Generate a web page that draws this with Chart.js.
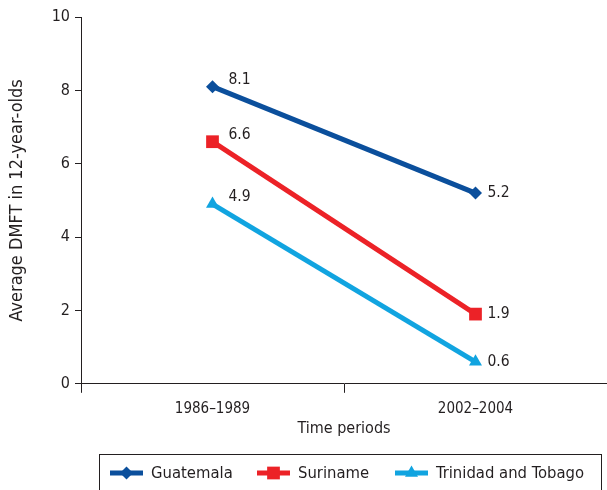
<!DOCTYPE html>
<html>
<head>
<meta charset="utf-8">
<script src="https://cdn.jsdelivr.net/npm/chart.js@4/dist/chart.umd.min.js"></script>
<style>
  html, body { margin: 0; padding: 0; background: #fff; }
  #wrap { width: 607px; height: 490px; position: relative; }
</style>
</head>
<body>
<div id="wrap"><canvas id="c" width="607" height="490"></canvas></div>
<script>
// Time periods on the x axis
const periods = ['1986\u20131989', '2002\u20132004'];
// Average DMFT in 12-year-olds per country
const guatemala = [8.1, 5.2];
const suriname = [6.6, 1.9];
const trinidad = [4.9, 0.6];
const countryNames = ['Guatemala', 'Suriname', 'Trinidad and Tobago'];
const yTicks = [0, 2, 4, 6, 8, 10];

const FONT = '"Liberation Sans Narrow", "DejaVu Sans Condensed", "Arial Narrow", sans-serif';
const TEXT = '#231f20';
const colors = ['#0b4f9c', '#ec2227', '#11a4e0'];
const styles = ['rectRot', 'rect', 'triangle'];
const radii = [6.5, 9, 7.5];

function makeSet(label, data, i) {
  return {
    label, data,
    borderColor: colors[i], backgroundColor: colors[i],
    borderWidth: 5, pointStyle: styles[i], pointRadius: radii[i],
    pointBorderWidth: 0, pointHoverRadius: radii[i], tension: 0,
    clip: false
  };
}

// Value labels beside each point
const valueLabels = {
  id: 'valueLabels',
  afterDatasetsDraw(chart) {
    const ctx = chart.ctx;
    ctx.save();
    ctx.font = '15.5px ' + FONT;
    ctx.fillStyle = TEXT;
    ctx.textAlign = 'left';
    ctx.textBaseline = 'middle';
    chart.data.datasets.forEach((ds, di) => {
      chart.getDatasetMeta(di).data.forEach((pt, i) => {
        const dx = i === 0 ? 16 : 12;
        const dy = i === 0 ? -7 : 0;
        ctx.fillText(ds.data[i].toFixed(1), pt.x + dx, pt.y + dy);
      });
    });
    ctx.restore();
  }
};

// Boxed legend with line-and-marker keys
const boxLegend = {
  id: 'boxLegend',
  afterDraw(chart) {
    const ctx = chart.ctx;
    ctx.save();
    ctx.strokeStyle = '#231f20';
    ctx.lineWidth = 1;
    ctx.strokeRect(99.5, 454.5, 502, 40);
    const keyX = [110, 257, 395];
    const y = 473;
    ctx.font = '16.5px ' + FONT;
    ctx.textBaseline = 'middle';
    ctx.textAlign = 'left';
    countryNames.forEach((name, i) => {
      const x0 = keyX[i];
      const x1 = x0 + 33;
      ctx.strokeStyle = colors[i];
      ctx.lineWidth = 5;
      ctx.beginPath();
      ctx.moveTo(x0, y);
      ctx.lineTo(x1, y);
      ctx.stroke();
      ctx.fillStyle = colors[i];
      Chart.helpers.drawPoint(ctx, {
        pointStyle: styles[i], radius: radii[i], borderWidth: 0
      }, (x0 + x1) / 2, y);
      ctx.fillStyle = TEXT;
      ctx.fillText(name, x1 + 8, y + 1);
    });
    ctx.restore();
  }
};

new Chart(document.getElementById('c'), {
  type: 'line',
  data: {
    labels: periods,
    datasets: [
      makeSet(countryNames[0], guatemala, 0),
      makeSet(countryNames[1], suriname, 1),
      makeSet(countryNames[2], trinidad, 2)
    ]
  },
  options: {
    responsive: false,
    animation: false,
    devicePixelRatio: 1,
    layout: { autoPadding: false, padding: { top: 17, right: 0, bottom: 52, left: 0 } },
    plugins: { legend: { display: false }, tooltip: { enabled: false } },
    scales: {
      x: {
        offset: true,
        grid: { display: true, drawOnChartArea: false, offset: true, tickLength: 9, color: '#231f20', lineWidth: 1 },
        border: { display: true, color: '#231f20', width: 1 },
        ticks: { color: TEXT, font: { family: FONT, size: 15 }, padding: 7, maxRotation: 0 },
        title: { display: true, text: 'Time periods', color: TEXT, font: { family: FONT, size: 16 }, padding: { top: -6, bottom: 0 } },
        afterFit(scale) { scale.paddingLeft = 0; scale.paddingRight = 0; }
      },
      y: {
        min: 0, max: 10,
        afterBuildTicks(scale) { scale.ticks = yTicks.map(v => ({ value: v })); },
        grid: { display: true, drawOnChartArea: false, tickLength: 6, color: '#231f20', lineWidth: 1 },
        border: { display: true, color: '#231f20', width: 1 },
        ticks: { color: TEXT, font: { family: FONT, size: 16 }, padding: 5 },
        title: { display: true, text: 'Average DMFT in 12-year-olds', color: TEXT, font: { family: FONT, size: 18 }, padding: { top: 7, bottom: 4 } },
        afterFit(scale) { scale.width = 81; }
      }
    }
  },
  plugins: [valueLabels, boxLegend]
});
</script>
</body>
</html>
